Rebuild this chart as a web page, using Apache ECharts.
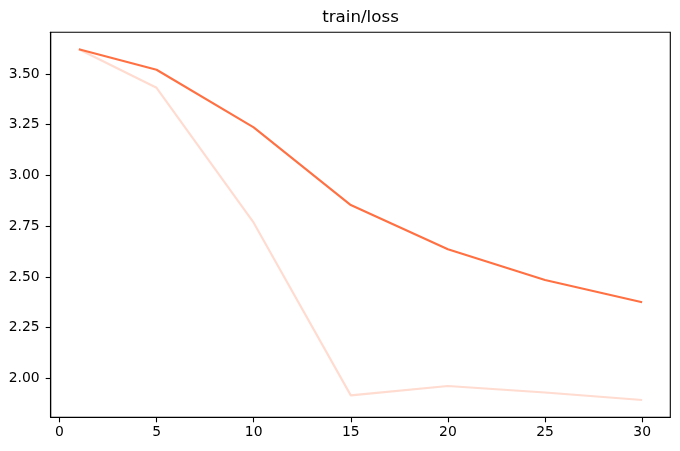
<!DOCTYPE html>
<html>
<head>
<meta charset="utf-8">
<script src="https://cdn.jsdelivr.net/npm/echarts@6/dist/echarts.min.js"></script>
<style>html,body{margin:0;padding:0;background:#fff}#c{width:680px;height:451px}</style>
</head>
<body>
<div id="c"></div>
<script>
const titleText = 'train/loss';
const steps = [1, 5, 10, 15, 20, 25, 30];
const smoothedLoss = [3.622, 3.521, 3.237, 2.854, 2.636, 2.485, 2.375];
const rawLoss = [3.622, 3.432, 2.767, 1.916, 1.962, 1.930, 1.893];
const xTicks = [0, 5, 10, 15, 20, 25, 30];
const yTicks = [2.00, 2.25, 2.50, 2.75, 3.00, 3.25, 3.50];

const font = 'DejaVu Sans';
const chart = echarts.init(document.getElementById('c'), null, {renderer: 'canvas'});
const pair = arr => steps.map((s, i) => [s, arr[i]]);

chart.setOption({
  animation: false,
  backgroundColor: '#fff',
  graphic: [{
    type: 'text',
    x: 360.5, y: 18,
    style: {
      text: titleText, fontFamily: font, fontSize: 16.7, fill: '#000',
      align: 'center', verticalAlign: 'middle'
    }
  }],
  grid: {
    left: 50.7, right: 9.7, top: 32.3, bottom: 33.7,
    show: true, borderColor: '#000', borderWidth: 1.1, backgroundColor: 'transparent'
  },
  xAxis: {
    type: 'value',
    min: -0.45, max: 31.45,
    splitLine: {show: false},
    axisLine: {show: true, onZero: false, lineStyle: {color: '#000', width: 1.1}},
    axisTick: {show: true, length: 5, lineStyle: {color: '#000', width: 1.1}, customValues: xTicks},
    axisLabel: {
      customValues: xTicks, margin: 8,
      fontFamily: font, fontSize: 13.9, color: '#000',
      formatter: v => String(v)
    }
  },
  yAxis: {
    type: 'value',
    min: 1.808, max: 3.7055,
    splitLine: {show: false},
    axisLine: {show: true, onZero: false, lineStyle: {color: '#000', width: 1.1}},
    axisTick: {show: true, length: 5, lineStyle: {color: '#000', width: 1.1}, customValues: yTicks},
    axisLabel: {
      customValues: yTicks, margin: 11,
      fontFamily: font, fontSize: 13.9, color: '#000',
      formatter: v => v.toFixed(2)
    }
  },
  series: [
    {
      name: 'raw', type: 'line', data: pair(rawLoss),
      symbol: 'none', z: 2,
      lineStyle: {color: '#ff7043', opacity: 0.25, width: 2.1}
    },
    {
      name: 'smoothed', type: 'line', data: pair(smoothedLoss),
      symbol: 'none', z: 3,
      lineStyle: {color: '#ff7043', width: 2.1}
    }
  ]
});
</script>
</body>
</html>
